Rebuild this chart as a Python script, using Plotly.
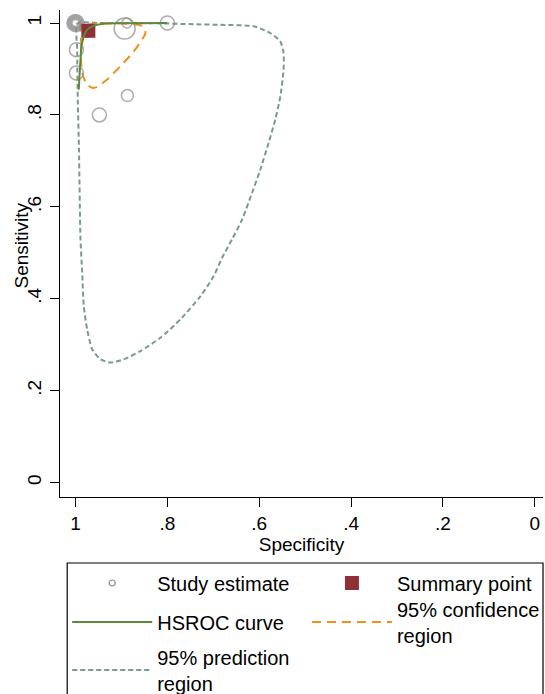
import plotly.graph_objects as go

# ---- data ----
study_spec = [1.0, 1.0, 1.0, 1.0, 1.0, 1.0, 0.888, 0.893, 0.800, 0.998, 0.998, 0.887, 0.948]
study_sens = [1.0, 1.0, 1.0, 1.0, 1.0, 1.0, 1.0, 0.988, 1.0, 0.942, 0.891, 0.842, 0.800]
study_size = [7, 9, 11, 13, 15, 17, 10, 21, 14, 14, 14, 12, 14]

summary_spec = [0.972]
summary_sens = [0.983]

hsroc_spec = [0.9928, 0.9913, 0.9891, 0.9870, 0.9819, 0.9746, 0.9602, 0.9385, 0.8876, 0.8006]
hsroc_sens = [0.855, 0.884, 0.920, 0.949, 0.971, 0.985, 0.994, 0.9985, 0.9995, 0.9999]

conf_spec = [0.9891, 0.9876, 0.9876, 0.9833, 0.9746, 0.9637, 0.9528, 0.9311, 0.9021, 0.8732,
             0.8549, 0.8477, 0.8499, 0.8586, 0.8876, 0.9239, 0.9602, 0.9854, 0.9891]
conf_sens = [0.996, 0.957, 0.913, 0.884, 0.866, 0.859, 0.861, 0.877, 0.906, 0.938,
             0.964, 0.978, 0.989, 0.995, 0.9985, 0.9995, 0.9985, 0.996, 0.996]

pred_spec = [0.9957, 0.9456, 0.8369, 0.7281, 0.6846, 0.6122, 0.5759, 0.5541, 0.5470, 0.5470,
             0.5541, 0.5650, 0.5796, 0.5976, 0.6157, 0.6374, 0.6592, 0.6809, 0.6992, 0.7281,
             0.7716, 0.8151, 0.8586, 0.8950, 0.9239, 0.9456, 0.9637, 0.9746, 0.9819, 0.9854,
             0.9891, 0.9924, 0.9950, 0.9963, 0.9957]
pred_sens = [0.999, 1.0, 0.9996, 0.997, 0.996, 0.993, 0.978, 0.960, 0.935, 0.898,
             0.840, 0.790, 0.739, 0.681, 0.630, 0.572, 0.529, 0.489, 0.449, 0.405,
             0.355, 0.315, 0.286, 0.268, 0.261, 0.268, 0.290, 0.333, 0.384, 0.457,
             0.529, 0.725, 0.833, 0.942, 0.999]

tick_vals = [0, 0.2, 0.4, 0.6, 0.8, 1]
tick_text = ["0", ".2", ".4", ".6", ".8", "1"]

GRAY = "#8a8a8a"
GREEN = "#5b8a3c"
ORANGE = "#f0901a"
PRED = "#7a9a90"
MAROON = "#8f2f38"
FONT = "Liberation Sans, Arial, sans-serif"

W, H = 545, 694
ML, MR, MT, MB = 59.5, 2, 10, 197
PW, PH = W - ML - MR, H - MT - MB


def px2x(px):
    return (px - ML) / PW


def py2y(py):
    return (H - MB - py) / PH


fig = go.Figure()

fig.add_trace(go.Scatter(
    x=pred_spec, y=pred_sens, mode="lines", name="95% prediction<br>region",
    line=dict(color=PRED, width=2, dash="5px,3px", shape="spline", smoothing=0.6),
    showlegend=False))
fig.add_trace(go.Scatter(
    x=conf_spec, y=conf_sens, mode="lines", name="95% confidence<br>region",
    line=dict(color=ORANGE, width=2, dash="9px,6px", shape="spline", smoothing=0.6),
    showlegend=False))
fig.add_trace(go.Scatter(
    x=study_spec, y=study_sens, mode="markers", name="Study estimate",
    marker=dict(symbol="circle-open", size=study_size, color=GRAY,
                line=dict(width=1.5, color=GRAY)), showlegend=False))
fig.add_trace(go.Scatter(
    x=summary_spec, y=summary_sens, mode="markers", name="Summary point",
    marker=dict(symbol="square", size=14, color=MAROON), showlegend=False))
fig.add_trace(go.Scatter(
    x=hsroc_spec, y=hsroc_sens, mode="lines", name="HSROC curve",
    line=dict(color=GREEN, width=2, shape="spline"), showlegend=False))

# legend entries (legend only)
fig.add_trace(go.Scatter(x=[None], y=[None], mode="markers", name="Study estimate",
                         legend="legend",
                         marker=dict(symbol="circle-open", size=6, color=GRAY,
                                     line=dict(width=1.2, color=GRAY))))
fig.add_trace(go.Scatter(x=[None], y=[None], mode="markers", name="Summary point",
                         legend="legend2",
                         marker=dict(symbol="square", size=14, color=MAROON)))
fig.add_trace(go.Scatter(x=[None], y=[None], mode="lines", name="HSROC curve",
                         legend="legend3",
                         line=dict(color=GREEN, width=2)))
fig.add_trace(go.Scatter(x=[None], y=[None], mode="lines", name="95% confidence<br>region",
                         legend="legend4",
                         line=dict(color=ORANGE, width=2, dash="9px,6px")))
fig.add_trace(go.Scatter(x=[None], y=[None], mode="lines", name="95% prediction<br>region",
                         legend="legend5",
                         line=dict(color=PRED, width=2, dash="5px,3px")))

leg_common = dict(xanchor="left", yanchor="middle", bgcolor="rgba(0,0,0,0)",
                  borderwidth=0, itemwidth=80,
                  font=dict(family=FONT, size=20, color="black"))
col1, col2 = 66.7, 306.7
fig.update_layout(
    legend=dict(x=px2x(col1), y=py2y(583), **leg_common),
    legend2=dict(x=px2x(col2), y=py2y(583), **leg_common),
    legend3=dict(x=px2x(col1), y=py2y(622), **leg_common),
    legend4=dict(x=px2x(col2), y=py2y(622), **leg_common),
    legend5=dict(x=px2x(col1), y=py2y(670), **leg_common),
)

# legend frame
fig.add_shape(type="rect", xref="paper", yref="paper",
              x0=px2x(66.7), x1=px2x(543), y0=py2y(563), y1=py2y(700),
              line=dict(color="black", width=1.2), fillcolor="rgba(0,0,0,0)",
              layer="below")

# y axis title
fig.add_annotation(text="Sensitivity", xref="paper", yref="paper",
                   x=px2x(21), y=py2y(246), textangle=-90, showarrow=False,
                   xanchor="center", yanchor="middle",
                   font=dict(family=FONT, size=19, color="black"))

fig.update_layout(
    width=W, height=H,
    margin=dict(l=ML, r=MR, t=MT, b=MB, autoexpand=False),
    paper_bgcolor="white", plot_bgcolor="white",
    font=dict(family=FONT, size=19, color="black"),
    showlegend=True,
    xaxis=dict(range=[1.0337, -0.0178], tickvals=tick_vals, ticktext=tick_text,
               showgrid=False, zeroline=False, showline=True, linecolor="black",
               linewidth=1.3, ticks="outside", ticklen=9, tickcolor="black",
               title=dict(text="Specificity", standoff=0,
                          font=dict(family=FONT, size=19))),
    yaxis=dict(range=[-0.0316, 1.0283], tickvals=tick_vals, ticktext=tick_text,
               tickangle=-90, showgrid=False, zeroline=False, showline=True,
               linecolor="black", linewidth=1.3, ticks="outside", ticklen=9,
               tickcolor="black", ticklabelstandoff=1),
)

fig.write_html("out.html", config={"displayModeBar": False},
               post_script="document.body.style.margin='0px';")
